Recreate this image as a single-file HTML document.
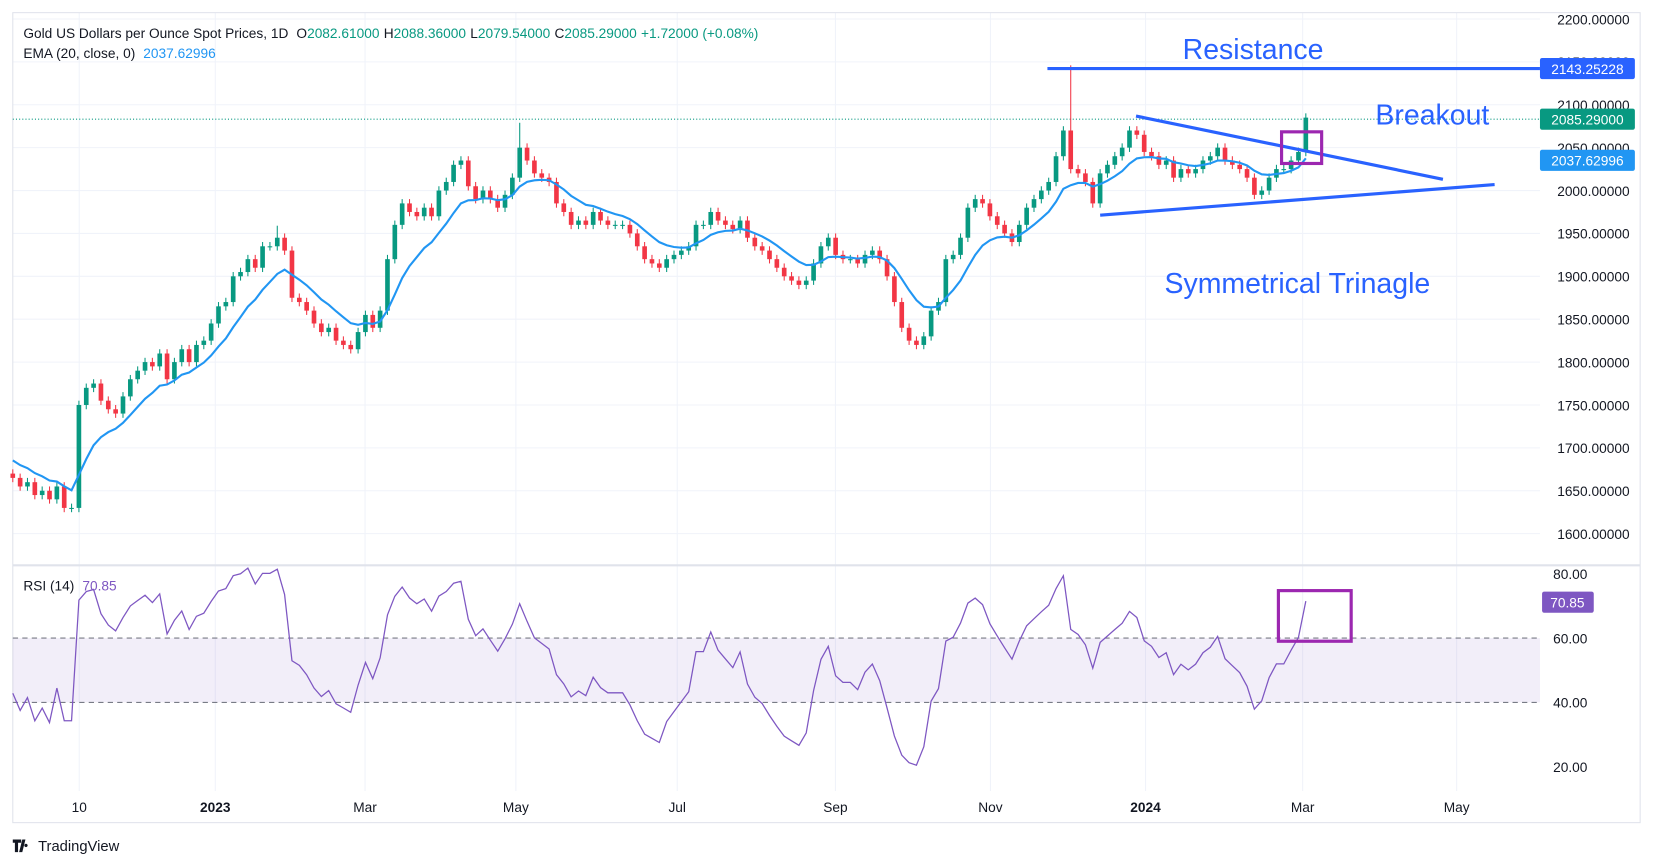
<!DOCTYPE html>
<html><head><meta charset="utf-8"><style>
html,body{margin:0;padding:0;background:#fff;}
svg{display:block;font-family:"Liberation Sans",sans-serif;}
</style></head><body>
<svg id="chart" width="1654" height="868" viewBox="0 0 1568 823" xmlns="http://www.w3.org/2000/svg">
<rect x="0" y="0" width="1568" height="823" fill="#fff"/>
<g id="grid"></g>
<rect x="12" y="12" width="1543" height="768" fill="none" stroke="#e0e3eb"/>
<line x1="12" y1="536" x2="1555" y2="536" stroke="#e0e3eb" stroke-width="2"/>
<rect x="12" y="605" width="1448" height="61" fill="#7e57c2" fill-opacity="0.1"/>
<line x1="12" y1="605" x2="1460" y2="605" stroke="#787b86" stroke-dasharray="5,4"/>
<line x1="12" y1="666" x2="1460" y2="666" stroke="#787b86" stroke-dasharray="5,4"/>
<line x1="12" y1="113" x2="1460" y2="113" stroke="#089981" stroke-dasharray="1,2"/>
<g id="candles"></g>
<path id="ema" fill="none" stroke="#2196f3" stroke-width="2"/>
<path id="rsi" fill="none" stroke="#7e57c2" stroke-width="1.2"/>
<g id="axes" font-size="13" fill="#131722"></g>

<g>
<line x1="993" y1="65" x2="1460" y2="65" stroke="#2962ff" stroke-width="3"/>
<line x1="1077" y1="110" x2="1368" y2="170" stroke="#2962ff" stroke-width="3"/>
<line x1="1043" y1="204" x2="1417" y2="175" stroke="#2962ff" stroke-width="3"/>
<rect x="1215" y="125" width="38" height="30" fill="none" stroke="#9c27b0" stroke-width="3"/>
<rect x="1212" y="560" width="69" height="48" fill="none" stroke="#9c27b0" stroke-width="3"/>
<text x="1188" y="56" font-size="27" fill="#2962ff" text-anchor="middle">Resistance</text>
<text x="1358" y="118" font-size="27" fill="#2962ff" text-anchor="middle">Breakout</text>
<text x="1230" y="278" font-size="27" fill="#2962ff" text-anchor="middle">Symmetrical Trinagle</text>
</g>

<g font-size="13" fill="#fff">
<rect x="1460" y="55" width="90" height="20" rx="2" fill="#2962ff"/><text x="1505" y="70" text-anchor="middle">2143.25228</text>
<rect x="1460" y="103" width="90" height="20" rx="2" fill="#089981"/><text x="1505" y="118" text-anchor="middle">2085.29000</text>
<rect x="1460" y="142" width="90" height="20" rx="2" fill="#2196f3"/><text x="1505" y="157" text-anchor="middle">2037.62996</text>
<rect x="1462" y="561" width="49" height="20" rx="2" fill="#7e57c2"/><text x="1486" y="576" text-anchor="middle">70.85</text>
</g>

<g font-size="13">
<text x="22" y="36" fill="#131722">Gold US Dollars per Ounce Spot Prices, 1D <tspan dx="4">O</tspan><tspan fill="#089981">2082.61000</tspan><tspan dx="4">H</tspan><tspan fill="#089981">2088.36000</tspan><tspan dx="4">L</tspan><tspan fill="#089981">2079.54000</tspan><tspan dx="4">C</tspan><tspan fill="#089981">2085.29000</tspan><tspan dx="4" fill="#089981">+1.72000 (+0.08%)</tspan></text>
<text x="22" y="55" fill="#131722">EMA (20, close, 0) <tspan dx="4" fill="#2196f3">2037.62996</tspan></text>
<text x="22" y="560" fill="#131722">RSI (14) <tspan dx="4" fill="#7e57c2">70.85</tspan></text>
</g>
<g>
<path d="M12 796h8v3h-3v9h-3v-9h-2z M21 796h3l-3 12h-3z M24.5 800a1.6 1.6 0 1 0 0.01 0z" fill="#131722"/>
<text x="36" y="807" font-size="14" fill="#131722">TradingView</text>
</g>
</svg>
<script>
const closes = [
1665,1655,1660,1645,1650,1640,1655,1630,1630,
1750,1770,1775,1755,1745,1740,1760,1780,1790,1800,1795,1810,1780,1800,1815,1800,1820,1825,
1845,1865,1870,1900,1905,1920,1910,1935,1935,1945,1930,
1875,1870,1860,1845,1835,1840,1825,1820,1815,
1835,1855,1840,1860,1920,1960,1985,1975,1970,1980,1970,
2000,2010,2030,2035,2005,1990,2000,1990,1980,1995,
2015,2050,2035,2020,2015,2010,1985,1975,1960,1965,1960,
1975,1965,1960,1960,1960,1950,1935,1920,1915,1910,
1920,1925,1930,1935,1960,1960,1975,1965,1960,1955,1965,
1945,1935,1930,1920,1910,1900,1895,1890,1895,1915,1935,
1945,1925,1920,1920,1915,1925,1930,1920,1900,1870,
1840,1825,1820,1830,1860,1870,1920,1925,1945,1980,1990,
1985,1970,1960,1950,1940,1960,1980,1990,2000,2010,2040,
2070,2025,2020,2010,1985,2020,2030,2040,2050,2070,
2065,2045,2040,2030,2035,2015,2025,2020,2025,2035,2040,
2050,2035,2030,2025,2015,1995,2000,2015,2025,2025,2035,
2045,2085];
const wickExtremes = [[69,2079],[144,2146],[17,1786],[36,1959]];
const priceTicks = [2200,2150,2100,2050,2000,1950,1900,1850,1800,1750,1700,1650,1600];
const rsiTicks = [80,60,40,20];
const timeLabels = ["10","2023","Mar","May","Jul","Sep","Nov","2024","Mar","May"];

const NS="http://www.w3.org/2000/svg";
const X0=12, XLAST=1238;
const step=(XLAST-X0)/(closes.length-1);
function xs(i){return X0+i*step;}
function yp(p){return 18+(2200-p)*0.8133;}
function yr(v){return 544+(80-v)*3.05;}
function mk(tag,attrs,parent){const e=document.createElementNS(NS,tag);for(const k in attrs)e.setAttribute(k,attrs[k]);parent.appendChild(e);return e;}

const grid=document.getElementById('grid'), axes=document.getElementById('axes'), cg=document.getElementById('candles');
priceTicks.forEach(p=>{
  const l=mk('line',{x1:12,x2:1460,y1:yp(p),y2:yp(p),stroke:'#f0f3fa'},grid);
  
  
  const t=mk('text',{x:1545,y:yp(p)+5,'text-anchor':'end'},axes);
  t.textContent=p.toFixed(5);
  
  
});
rsiTicks.forEach(v=>{
  const t=mk('text',{x:1505,y:yr(v)+5,'text-anchor':'end'},axes);
  t.textContent=v.toFixed(2);
  
  
});
const gridX=[75,204,346,489,642,792,939,1086,1235,1381];
timeLabels.forEach((s,k)=>{
  const gx=gridX[k];
  const l=mk('line',{x1:gx,x2:gx,y1:12,y2:750,stroke:'#f0f3fa'},grid);
  
  
  const t=mk('text',{x:gx,y:770,'text-anchor':'middle','font-weight':(s.length===4?'bold':'normal')},axes);
  t.textContent=s;
  
  
});

const ext={};wickExtremes.forEach(e=>ext[e[0]]=e[1]);
closes.forEach((c,i)=>{
  const o=i?closes[i-1]:c+5;
  const up=c>=o, col=up?'#089981':'#f23645';
  const hi=Math.max(ext[i]||0,Math.max(o,c)+5), lo=Math.min(o,c)-5;
  const x=xs(i);
  const w=mk('line',{x1:x,x2:x,y1:yp(hi),y2:yp(lo),stroke:col,'stroke-width':1},cg);
  
  
  const top=yp(Math.max(o,c)), h=Math.max(1,yp(Math.min(o,c))-top);
  const b=mk('rect',{x:x-2.2,y:top,width:4.4,height:h,fill:col},cg);
  
  
});

// EMA
const k=2/11;let e=closes[0]+25;const ema=[];
closes.forEach(c=>{e=c*k+e*(1-k);ema.push(e);});
document.getElementById('ema').setAttribute('d',ema.map((v,i)=>(i?'L':'M')+xs(i).toFixed(1)+' '+yp(v).toFixed(1)).join(' '));

// RSI (Wilder)
const n=11;let ag=3,al=4;const rsi=[];
closes.forEach((c,i)=>{
  if(i===0){rsi.push(100-100/(1+ag/al));return;}
  const d=c-closes[i-1],g=Math.max(d,0),l=Math.max(-d,0);
  ag=(ag*(n-1)+g)/n;al=(al*(n-1)+l)/n;
  rsi.push(al===0?100:100-100/(1+ag/al));
});
document.getElementById('rsi').setAttribute('d',rsi.map((v,i)=>(i?'L':'M')+xs(i).toFixed(1)+' '+yr(v).toFixed(1)).join(' '));
</script>
</body></html>
